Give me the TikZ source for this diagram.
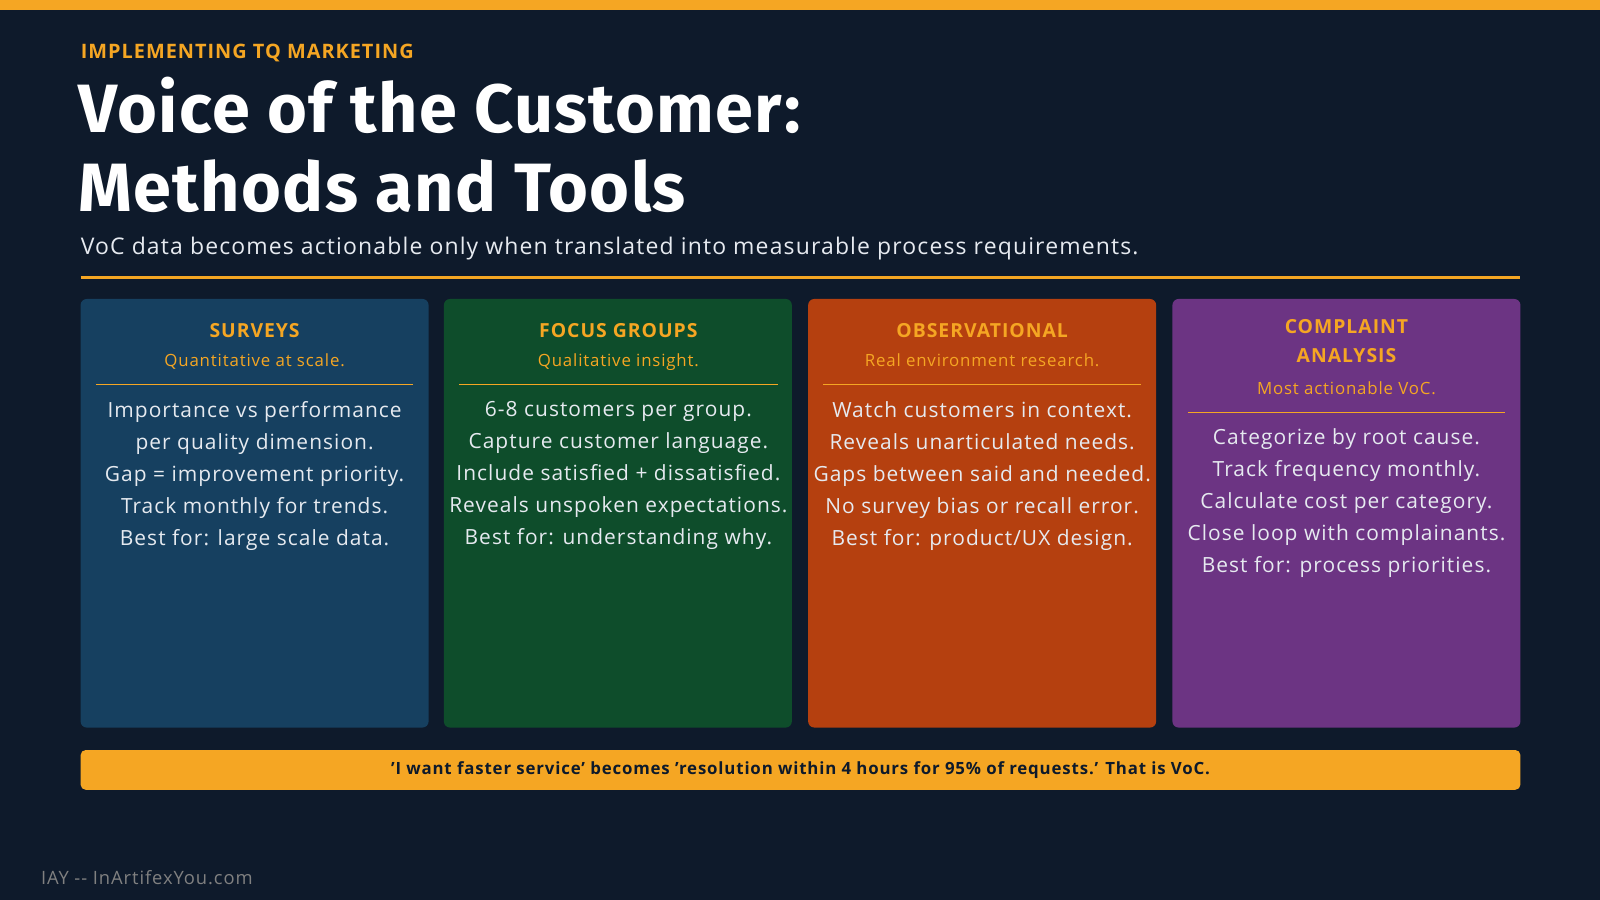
\documentclass[tikz,border=0pt]{standalone}
\usepackage{fontspec}
\setmainfont{Open Sans}[LetterSpace=5]
\newfontfamily\headfont{Fira Sans}[LetterSpace=2]
\usetikzlibrary{positioning}
\definecolor{pageBg}{HTML}{0E1A2B}
\definecolor{accent}{HTML}{F5A623}
\definecolor{cardSurvey}{HTML}{164060}
\definecolor{cardFocus}{HTML}{0E4D2B}
\definecolor{cardObserve}{HTML}{B5400F}
\definecolor{cardComplaint}{HTML}{6C3483}
\definecolor{bodyText}{HTML}{E6EAF0}
\tikzstyle{cardBox}=[rounded corners=6pt]
\tikzstyle{cardTitle}=[anchor=base,text=accent,font=\fontsize{19}{28}\selectfont\bfseries,align=center]
\tikzstyle{cardSub}=[anchor=base,text=accent,font=\fontsize{16.5}{20}\selectfont]
\tikzstyle{cardBody}=[anchor=base,text=bodyText,font=\fontsize{20.5}{31.4}\selectfont,align=center,inner sep=0pt]
\tikzstyle{cardRule}=[draw=accent,line width=0.8pt]
\begin{document}
\begin{tikzpicture}[x=1pt,y=-1pt]
\useasboundingbox (0,0) rectangle (1568,882);
\fill[pageBg] (0,0) rectangle (1568,882);
\fill[accent] (0,0) rectangle (1568,10);
\node[anchor=base west,inner sep=0pt,text=accent,font=\fontsize{19.5}{20}\selectfont\bfseries] (kicker) at (79,57) {IMPLEMENTING TQ MARKETING};
\node[anchor=base west,inner sep=0pt,text=white,font=\headfont\fontsize{67}{77}\selectfont\bfseries,align=left] (title) at (77,207) {Voice of the Customer:\\Methods and Tools};
\node[anchor=base west,inner sep=0pt,text=bodyText,font=\fontsize{22.5}{24}\selectfont] (subtitle) at (79,249) {VoC data becomes actionable only when translated into measurable process requirements.};
\draw[accent,line width=2.5pt] (79,272) coordinate (ruleL) -- (1490,272) coordinate (ruleR);
% cards
\foreach \x/\col/\name in {79/cardSurvey/survey,435/cardFocus/focus,792/cardObserve/observe,1149/cardComplaint/complaint} {
  \fill[\col,cardBox] (\x,293) rectangle ++(341,420);
}
\def\cs{249.5}\def\cf{606}\def\co{962.5}\def\cc{1319.5}
\node[cardTitle] (surveyT) at (\cs,331) {SURVEYS};
\node[cardSub] (surveyS) at (\cs,359) {Quantitative at scale.};
\draw[cardRule] (94,377) -- (405,377);
\node[cardBody,anchor=north] (surveyB) at (\cs,393) {Importance vs performance\\per quality dimension.\\Gap = improvement priority.\\Track monthly for trends.\\Best for: large scale data.};
\node[cardTitle] (focusT) at (\cf,331) {FOCUS GROUPS};
\node[cardSub] (focusS) at (\cf,359) {Qualitative insight.};
\draw[cardRule] (450,377) -- (762,377);
\node[cardBody,anchor=north] (focusB) at (\cf,393) {6-8 customers per group.\\Capture customer language.\\Include satisfied + dissatisfied.\\Reveals unspoken expectations.\\Best for: understanding why.};
\node[cardTitle] (observeT) at (\co,331) {OBSERVATIONAL};
\node[cardSub] (observeS) at (\co,359) {Real environment research.};
\draw[cardRule] (807,377) -- (1118,377);
\node[cardBody,anchor=north] (observeB) at (\co,393) {Watch customers in context.\\Reveals unarticulated needs.\\Gaps between said and needed.\\No survey bias or recall error.\\Best for: product/UX design.};
\node[cardTitle,anchor=north] (complaintT) at (\cc,310) {COMPLAINT\\ANALYSIS};
\node[cardSub] (complaintS) at (\cc,387) {Most actionable VoC.};
\draw[cardRule] (1164,404) -- (1475,404);
\node[cardBody,anchor=north] (complaintB) at (\cc,420) {Categorize by root cause.\\Track frequency monthly.\\Calculate cost per category.\\Close loop with complainants.\\Best for: process priorities.};
% banner
\fill[accent,rounded corners=5pt] (79,735) rectangle (1490,774);
\node[text=pageBg,font=\fontsize{16.5}{20}\selectfont\bfseries] (banner) at (784.5,755) {'I want faster service' becomes 'resolution within 4 hours for 95\% of requests.' That is VoC.};
\node[anchor=base west,inner sep=0pt,text=gray,font=\fontsize{18}{20}\selectfont] (footer) at (40,867) {IAY -{}- InArtifexYou.com};
\end{tikzpicture}
\end{document}
